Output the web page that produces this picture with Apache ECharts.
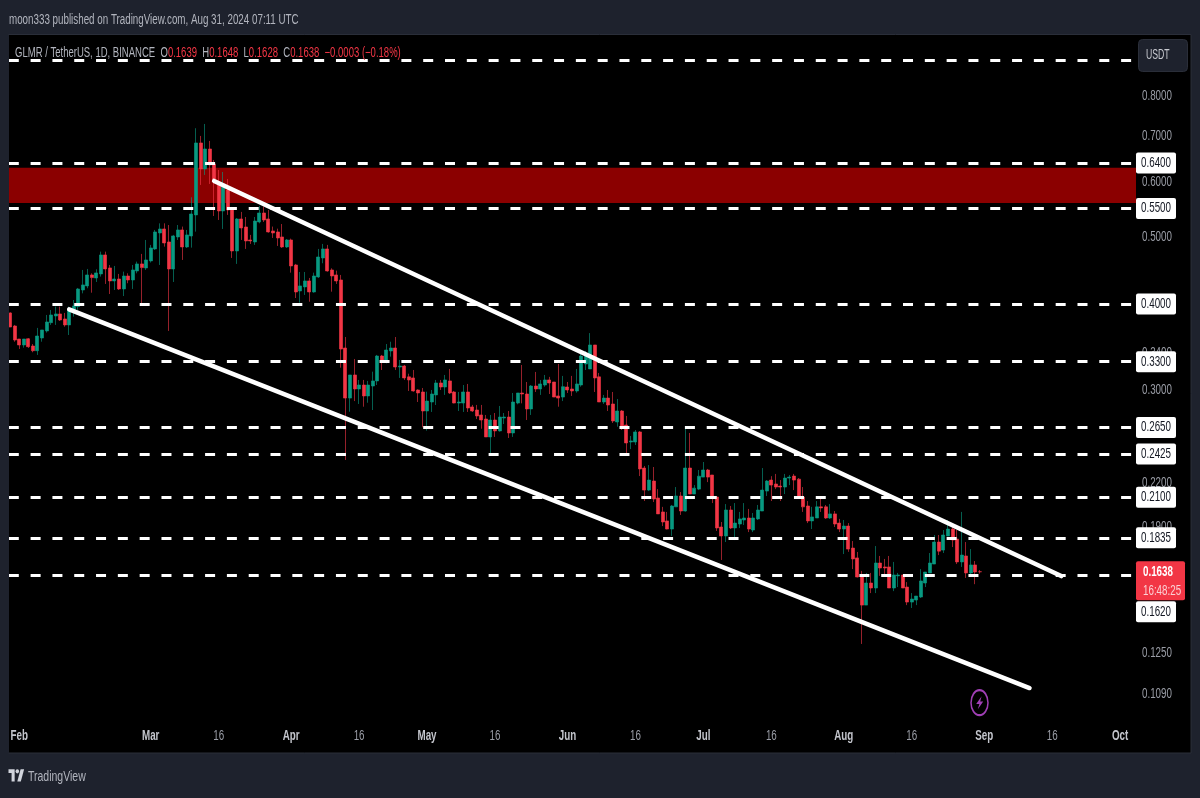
<!DOCTYPE html>
<html>
<head>
<meta charset="utf-8">
<title>GLMR / TetherUS, 1D</title>
<style>html,body{margin:0;padding:0;background:#1e222d;overflow:hidden}#chart{width:1200px;height:798px}</style>
<script src="https://cdn.jsdelivr.net/npm/echarts@6/dist/echarts.min.js"></script>
</head>
<body>
<div id="chart"></div>
<script>
// Daily GLMR/USDT bars from 30 Jan 2024, one row per day: open, close, low, high
const candles = [
[.3882,.3704,.3704,.3890],[.3717,.3547,.3527,.3730],[.3559,.3489,.3443,.3559],[.3489,.3559,.3458,.3559],
[.3562,.3469,.3454,.3570],[.3477,.3423,.3405,.3500],[.3423,.3595,.3375,.3693],[.3571,.3668,.3527,.3668],
[.3656,.3767,.3636,.3856],[.3758,.3856,.3730,.3921],[.3843,.3869,.3730,.3965],[.3869,.3792,.3780,.3965],
[.3805,.3730,.3708,.3882],[.3730,.3912,.3607,.3965],[.3921,.3974,.3835,.4053],[.3965,.4205,.3921,.4219],
[.4191,.4262,.4144,.4480],[.4248,.4406,.4215,.4495],[.4406,.4367,.4153,.4430],[.4362,.4436,.4304,.4490],
[.4421,.4710,.4382,.4762],[.4710,.4495,.4276,.4762],[.4510,.4319,.4135,.4555],[.4319,.4347,.4191,.4540],
[.4347,.4205,.4191,.4421],[.4205,.4391,.4107,.4455],[.4391,.4333,.4286,.4430],[.4333,.4480,.4205,.4555],
[.4465,.4571,.4430,.4606],[.4571,.4515,.4011,.4726],[.4510,.4632,.4480,.4951],[.4617,.4821,.4592,.4870],
[.4805,.5085,.4789,.5119],[.5068,.5136,.4555,.5233],[.5136,.4902,.4842,.5233],[.4918,.4495,.3656,.5204],
[.4495,.5018,.4304,.5035],[.5001,.5119,.4951,.5204],[.5119,.4837,.4632,.5177],[.4837,.5035,.4821,.5119],
[.5017,.5399,.4826,.5708],[.5382,.6841,.5090,.7185],[.6841,.6273,.5947,.7003],[.6273,.6705,.6149,.7288],
[.6705,.6357,.5967,.6887],[.6378,.6067,.5363,.6464],[.5987,.5454,.5292,.6252],[.5454,.5967,.5136,.6210],
[.5849,.5472,.5382,.6067],[.5490,.4773,.4663,.5527],[.4773,.5310,.4571,.5327],[.5310,.5153,.4951,.5436],
[.5170,.4935,.4805,.5345],[.4951,.4935,.4886,.5035],[.4918,.5274,.4870,.5345],[.5257,.5417,.5233,.5546],
[.5417,.5292,.5257,.5534],[.5310,.5085,.5073,.5472],[.5102,.5068,.4984,.5177],[.5085,.4984,.4853,.5141],
[.5001,.4837,.4821,.5221],[.4837,.4951,.4821,.4967],[.4951,.4540,.4440,.4973],[.4555,.4163,.4080,.4571],
[.4177,.4248,.4017,.4450],[.4234,.4319,.4122,.4450],[.4319,.4163,.4030,.4362],[.4163,.4391,.4153,.4440],
[.4377,.4678,.4362,.4805],[.4663,.4805,.4581,.4886],[.4805,.4465,.4455,.4870],[.4480,.4391,.4167,.4505],
[.4406,.4319,.4276,.4470],[.4333,.3442,.3235,.4406],[.3454,.2923,.2378,.3583],[.2923,.3157,.2793,.3157],
[.3157,.3013,.2894,.3330],[.3013,.3053,.2866,.3105],[.3053,.2944,.2840,.3105],[.2944,.3053,.2878,.3095],
[.3043,.3095,.2809,.3192],[.3095,.3363,.3053,.3375],[.3363,.3319,.3210,.3375],[.3319,.3431,.3282,.3500],
[.3420,.3454,.3356,.3527],[.3454,.3242,.3210,.3583],[.3242,.3253,.3126,.3319],[.3253,.3126,.3105,.3264],
[.3137,.3105,.2993,.3170],[.3126,.2993,.2986,.3210],[.3003,.2973,.2885,.3010],[.2983,.2800,.2652,.3023],
[.2800,.2894,.2622,.2986],[.2885,.2963,.2791,.3003],[.2954,.3074,.2856,.3105],[.3074,.3033,.3003,.3105],
[.3033,.3105,.2954,.3157],[.3095,.2973,.2963,.3221],[.2983,.2875,.2872,.2993],[.2875,.2885,.2800,.2983],
[.2875,.2983,.2791,.3053],[.2983,.2828,.2791,.3064],[.2838,.2800,.2791,.2857],[.2809,.2754,.2726,.2857],
[.2763,.2717,.2639,.2857],[.2726,.2568,.2568,.2763],[.2568,.2717,.2431,.2763],[.2717,.2620,.2568,.2781],
[.2620,.2744,.2614,.2847],[.2735,.2744,.2681,.2781],[.2744,.2602,.2559,.2800],[.2602,.2885,.2568,.2973],
[.2875,.2973,.2863,.2973],[.2973,.2963,.2872,.3264],[.2963,.2819,.2717,.3084],[.2819,.3043,.2763,.3053],
[.3043,.3013,.2983,.3189],[.3013,.3064,.2954,.3105],[.3053,.3105,.3036,.3157],[.3105,.3074,.2963,.3137],
[.3084,.2933,.2933,.3084],[.2944,.2923,.2840,.3275],[.2933,.3036,.2894,.3147],[.3033,.3003,.2973,.3084],
[.3013,.2993,.2944,.3147],[.2993,.3064,.2976,.3221],[.3053,.3363,.3036,.3397],[.3275,.3363,.3210,.3420],
[.3221,.3489,.3221,.3630],[.3489,.3126,.2983,.3489],[.3137,.2885,.2885,.3178],[.2885,.2923,.2866,.2954],
[.2923,.2856,.2800,.3003],[.2866,.2708,.2690,.2983],[.2699,.2800,.2657,.2914],[.2800,.2663,.2628,.2809],
[.2672,.2517,.2434,.2754],[.2525,.2534,.2466,.2576],[.2525,.2611,.2500,.2628],[.2611,.2308,.2254,.2619],
[.2315,.2151,.2074,.2331],[.2151,.2224,.2144,.2338],[.2217,.2088,.2067,.2323],[.2095,.1987,.1987,.2158],
[.2000,.1934,.1908,.2034],[.1941,.1889,.1887,.2000],[.1889,.2040,.1846,.2047],[.2034,.2109,.2034,.2173],
[.2109,.2006,.1980,.2137],[.2006,.2315,.2002,.2637],[.2315,.2123,.2123,.2602],[.2123,.2165,.2123,.2187],
[.2158,.2253,.2151,.2300],[.2246,.2300,.2246,.2362],[.2300,.2246,.2209,.2308],[.2262,.2095,.2060,.2262],
[.2102,.1896,.1877,.2109],[.1902,.1846,.1704,.1934],[.1846,.2013,.1809,.2053],[.2013,.1896,.1889,.2040],
[.1896,.1927,.1821,.2060],[.1921,.1954,.1896,.2000],[.1947,.1960,.1915,.2060],[.1960,.1889,.1870,.2020],
[.1883,.1960,.1870,.1993],[.1954,.2013,.1947,.2047],[.2006,.2151,.2006,.2315],[.2144,.2217,.2109,.2224],
[.2224,.2187,.2074,.2253],[.2195,.2173,.2158,.2270],[.2180,.2173,.2074,.2224],[.2173,.2239,.2123,.2270],
[.2239,.2246,.2187,.2262],[.2254,.2224,.2151,.2270],[.2231,.2095,.2090,.2239],[.2102,.2034,.2000,.2173],
[.2040,.1941,.1927,.2074],[.1941,.1967,.1889,.2034],[.1960,.2034,.1960,.2074],[.2034,.2027,.2000,.2088],
[.2034,.1960,.1954,.2047],[.1960,.1987,.1954,.2053],[.1987,.1921,.1902,.2006],[.1927,.1889,.1870,.1954],
[.1889,.1908,.1738,.1947],[.1908,.1767,.1751,.1927],[.1773,.1710,.1653,.1815],[.1716,.1610,.1608,.1750],
[.1616,.1466,.1288,.1643],[.1466,.1578,.1466,.1632],[.1578,.1552,.1526,.1632],[.1552,.1687,.1526,.1785],
[.1687,.1659,.1616,.1727],[.1665,.1659,.1610,.1710],[.1665,.1552,.1552,.1727],[.1552,.1621,.1536,.1693],
[.1616,.1621,.1557,.1632],[.1621,.1552,.1552,.1621],[.1557,.1481,.1466,.1583],[.1481,.1496,.1452,.1526],
[.1491,.1511,.1466,.1511],[.1506,.1589,.1501,.1653],[.1578,.1637,.1557,.1637],[.1632,.1687,.1632,.1744],
[.1681,.1809,.1681,.1852],[.1809,.1755,.1732,.1852],[.1761,.1852,.1744,.1883],[.1846,.1889,.1846,.1947],
[.1889,.1821,.1779,.1915],[.1827,.1693,.1681,.1883],[.1693,.1732,.1665,.2000],[.1727,.1632,.1605,.1809],
[.1632,.1676,.1626,.1767],[.1676,.1637,.1572,.1698],[.1639,.1638,.1628,.1648]
];

// Horizontal support / resistance levels; the top one has no price tag
const levels = [0.64, 0.55, 0.40, 0.33, 0.265, 0.2425, 0.21, 0.1835, 0.162];
const topLevel = 0.90;
const supplyZone = [0.63, 0.56];
const lastPrice = 0.1638;
const countdown = '16:48:25';

// Falling channel: [date, price] end points
const upperChannel = [['2024-03-15', 0.6027], ['2024-09-18', 0.1615]];
const lowerChannel = [['2024-02-12', 0.3928], ['2024-09-11', 0.1112]];

// Price scale and date scale labels
const priceTicks = [0.8, 0.7, 0.6, 0.5, 0.34, 0.3, 0.22, 0.19, 0.125, 0.109];
const dateTickDays = ['2024-02-01', '2024-03-01', '2024-03-16', '2024-04-01', '2024-04-16', '2024-05-01',
  '2024-05-16', '2024-06-01', '2024-06-16', '2024-07-01', '2024-07-16', '2024-08-01', '2024-08-16',
  '2024-09-01', '2024-09-16', '2024-10-01'];
const dateTickLabels = ['Feb', 'Mar', '16', 'Apr', '16', 'May', '16', 'Jun', '16', 'Jul', '16', 'Aug', '16', 'Sep', '16', 'Oct'];

// One category per calendar day, running past the last bar into the empty right margin
const days = [];
for (let d = Date.UTC(2024, 0, 30), n = 0; n < 249; n++, d += 86400000) {
  days.push(new Date(d).toISOString().slice(0, 10));
}

const UP = '#089981', DOWN = '#F23645';
const FONT = "'Liberation Sans',sans-serif";
const SQUEEZE = 0.7;   // the screen font is a condensed face, so text is drawn narrowed

const squeezedText = (x, y, text, fill, align, weight, size) => ({
  type: 'text', x, y, scaleX: SQUEEZE,
  style: {
    text, fill, align: align || 'left', verticalAlign: 'middle',
    font: `${weight || 'normal'} ${size || 14}px ${FONT}`
  }
});

const channel = ends => ends.map(p => ({
  coord: p, symbol: 'none',
  lineStyle: { color: '#ffffff', width: 4.5, type: 'solid', cap: 'round' },
  label: { show: false }
}));

// The lowest level tag is pushed below the last-price tag so the two do not collide
const tagShift = value => (value === 0.162 ? 36.5 : 0);

const chart = echarts.init(document.getElementById('chart'), null, { renderer: 'canvas' });
chart.setOption({
  animation: false,
  backgroundColor: '#1e222d',
  tooltip: { show: false },
  grid: { left: 8, top: 34, width: 1128, height: 688 },
  xAxis: {
    type: 'category', data: days,
    axisLine: { show: false }, axisTick: { show: false }, splitLine: { show: false },
    axisLabel: { show: false }
  },
  yAxis: {
    type: 'log', logBase: 10, position: 'right', scale: true,
    min: 0.0993, max: 0.9836,
    axisLine: { show: false }, axisTick: { show: false }, splitLine: { show: false },
    axisLabel: { show: false }
  },
  series: [
    {
      name: 'GLMR / TetherUS',
      type: 'candlestick',
      data: candles,
      barWidth: 3.5,
      clip: true,
      itemStyle: {
        color: UP, color0: DOWN,
        borderColor: 'rgba(8,153,129,0.62)', borderColor0: 'rgba(242,54,69,0.62)', borderWidth: 1
      },
      markArea: {
        silent: true, z: 1,
        itemStyle: { color: '#8b0000' },
        data: [[{ yAxis: supplyZone[0] }, { yAxis: supplyZone[1] }]]
      },
      markLine: {
        silent: true, symbol: 'none', z: 5, animation: false, precision: 4,
        lineStyle: { color: '#ffffff', width: 3, type: [10, 11.81], dashOffset: -0.8, opacity: 1 },
        label: { show: false },
        data: [
          { yAxis: topLevel },
          ...levels.map(v => ({ yAxis: v })),
          channel(upperChannel),
          channel(lowerChannel)
        ]
      }
    },
    {
      // Grey price scale labels
      name: 'price scale', type: 'custom', z: 6, silent: true,
      data: priceTicks.map(v => [0, v]),
      renderItem: (params, api) => {
        const y = api.coord([0, api.value(1)])[1];
        const x = params.coordSys.x + params.coordSys.width + 6;
        return squeezedText(x, y, api.value(1).toFixed(4), '#9a9da6');
      }
    },
    {
      // Date scale labels, months brighter than mid-month marks
      name: 'date scale', type: 'custom', z: 6, silent: true,
      data: dateTickDays.map(d => [days.indexOf(d), 0.5]),
      renderItem: (params, api) => {
        const x = api.coord([api.value(0), 0.5])[0];
        const y = params.coordSys.y + params.coordSys.height + 14;
        const t = dateTickLabels[params.dataIndex];
        return t === '16'
          ? squeezedText(x, y, t, '#9a9da6', 'center')
          : squeezedText(x, y, t, '#c3c5cc', 'center', 'bold');
      }
    },
    {
      // White tags for the drawn levels
      name: 'level tags', type: 'custom', z: 7, silent: true,
      data: levels.map(v => [0, v]),
      renderItem: (params, api) => {
        const v = api.value(1);
        const y = api.coord([0, v])[1] + tagShift(v);
        const x = params.coordSys.x + params.coordSys.width;
        return {
          type: 'group',
          children: [
            { type: 'rect', shape: { x, y: y - 10.5, width: 40, height: 21, r: 2 }, style: { fill: '#ffffff' } },
            squeezedText(x + 20, y, v.toFixed(4), '#131722', 'center')
          ]
        };
      }
    },
    {
      // Last price with the bar countdown
      name: 'last price', type: 'custom', z: 8, silent: true,
      data: [[0, lastPrice]],
      renderItem: (params, api) => {
        const v = api.value(1);
        const y = api.coord([0, v])[1];
        const x = params.coordSys.x + params.coordSys.width;
        return {
          type: 'group',
          children: [
            { type: 'rect', shape: { x, y: y - 10.5, width: 49, height: 39, r: 2 }, style: { fill: DOWN } },
            squeezedText(x + 7, y, v.toFixed(4), '#ffffff', 'left', 'bold'),
            squeezedText(x + 7, y + 19, countdown, '#fbd0d4')
          ]
        };
      }
    }
  ],
  graphic: [
    // Black chart pane
    { type: 'rect', z: -10, silent: true, shape: { x: 8.5, y: 34.5, width: 1182.5, height: 718.5 },
      style: { fill: '#000000', stroke: '#2a2e39', lineWidth: 1 } },
    // Left gutter hides whatever the grid draws before the pane starts
    { type: 'rect', z: 30, silent: true, shape: { x: 0, y: 35, width: 9, height: 718 }, style: { fill: '#1e222d' } },
    // Publisher line
    { type: 'text', x: 9, y: 20, scaleX: SQUEEZE, silent: true,
      style: { text: 'moon333 published on TradingView.com, Aug 31, 2024 07:11 UTC', fill: '#b2b5be',
        verticalAlign: 'middle', font: `14px ${FONT}` } },
    // Symbol legend
    { type: 'text', x: 15, y: 53, scaleX: 0.68, z: 20, silent: true,
      style: {
        verticalAlign: 'middle',
        text: '{g|GLMR / TetherUS, 1D, BINANCE  O}{r|0.1639}{g|  H}{r|0.1648}{g|  L}{r|0.1628}{g|  C}{r|0.1638}{r|  \u22120.0003 (\u22120.18%)}',
        rich: {
          g: { fill: '#b2b5be', font: `14px ${FONT}` },
          r: { fill: '#F23645', font: `14px ${FONT}` }
        }
      } },
    // Currency button on the price scale
    { type: 'rect', z: 20, silent: true, shape: { x: 1138.5, y: 39.5, width: 49, height: 32, r: 4 },
      style: { fill: '#1e222d', stroke: '#2a2e39', lineWidth: 1 } },
    { type: 'text', z: 21, x: 1146, y: 55, scaleX: 0.62, silent: true,
      style: { text: 'USDT', fill: '#c8cad0', verticalAlign: 'middle', font: `14px ${FONT}` } },
    // Event marker below the last bar
    { type: 'group', z: 20, x: 979.5, y: 702.7, scaleX: 0.68, children: [
      { type: 'circle', silent: true, shape: { cx: 0, cy: 0, r: 12.5 },
        style: { fill: 'transparent', stroke: '#a03fb5', lineWidth: 2.2 } }
    ] },
    { type: 'polygon', z: 20, silent: true,
      shape: { points: [[981.6, 696.3], [976.2, 704], [979.4, 704], [977.8, 709.2], [983.2, 701.6], [980.2, 701.6]] },
      style: { fill: '#a03fb5' } },
    // Brand mark in the footer
    { type: 'group', z: 20, x: 8.5, y: 768.3, scaleX: 0.44, scaleY: 0.51, children: [
      { type: 'polygon', silent: true, shape: { points: [[0, 2], [14, 2], [14, 26], [7, 26], [7, 9], [0, 9]] }, style: { fill: '#d1d4dc' } },
      { type: 'polygon', silent: true, shape: { points: [[27.5, 2], [35.5, 2], [28, 26], [20, 26]] }, style: { fill: '#d1d4dc' } },
      { type: 'circle', silent: true, shape: { cx: 20, cy: 6, r: 4 }, style: { fill: '#d1d4dc' } }
    ] },
    { type: 'text', x: 28, y: 776.7, scaleX: SQUEEZE, silent: true,
      style: { text: 'TradingView', fill: '#b2b5be', verticalAlign: 'middle', font: `15px ${FONT}` } }
  ]
});
</script>
</body>
</html>
